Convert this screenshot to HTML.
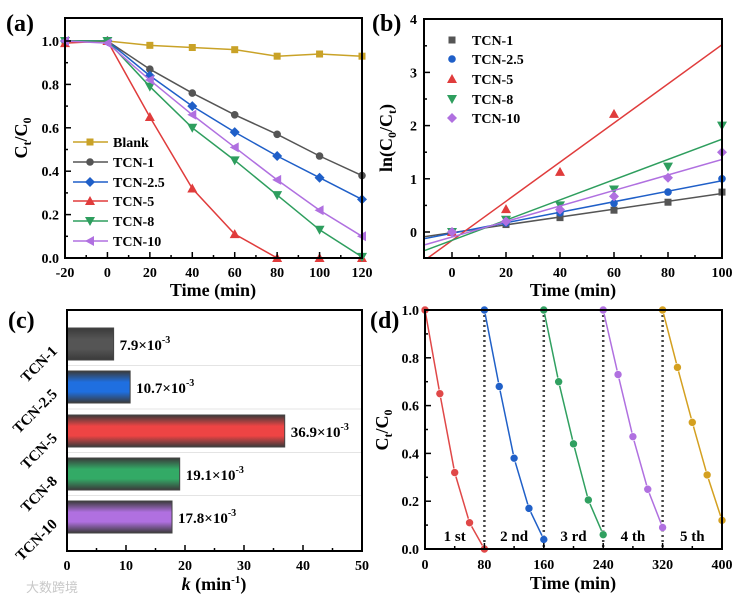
<!DOCTYPE html>
<html><head><meta charset="utf-8"><style>
body{margin:0;background:#fff}
svg{display:block;font-family:"Liberation Serif",serif;font-weight:bold}
</style></head><body>
<svg id="fig" width="741" height="605" viewBox="0 0 741 605"></svg>
<script>
// ---- data ----
const aTimes=[-20,0,20,40,60,80,100,120];
const aNames=["Blank","TCN-1","TCN-2.5","TCN-5","TCN-8","TCN-10"];
const aBlank=[1,1,0.98,0.97,0.96,0.93,0.94,0.93];
const aTCN1=[1,1,0.87,0.76,0.66,0.57,0.47,0.38];
const aTCN25=[1,1,0.84,0.70,0.58,0.47,0.37,0.27];
const aTCN5=[0.99,1,0.65,0.32,0.11,0,0,0];
const aTCN8=[1,1,0.79,0.60,0.45,0.29,0.13,0.005];
const aTCN10=[1,0.99,0.82,0.66,0.51,0.36,0.22,0.10];
const bTimes=[0,20,40,60,80,100];
const bNames=["TCN-1","TCN-2.5","TCN-5","TCN-8","TCN-10"];
const bTCN1=[0,0.14,0.27,0.41,0.56,0.75];
const bTCN25=[0,0.17,0.36,0.54,0.75,1.0];
const bTCN5=[0,0.43,1.13,2.22];
const bTCN8=[0,0.23,0.5,0.8,1.23,2.0];
const bTCN10=[0,0.2,0.42,0.67,1.02,1.5];
const cCats=["TCN-1","TCN-2.5","TCN-5","TCN-8","TCN-10"];
const cVals=[7.9,10.7,36.9,19.1,17.8];
const cLabels=["7.9","10.7","36.9","19.1","17.8"];
const dTimes=[0,20,40,60,80];
const dOffsets=[0,80,160,240,320];
const dCycleLabels=["1 st","2 nd","3 rd","4 th","5 th"];
const dC1=[1,0.65,0.32,0.11,0.0];
const dC2=[1,0.68,0.38,0.17,0.04];
const dC3=[1,0.70,0.44,0.205,0.06];
const dC4=[1,0.73,0.47,0.25,0.09];
const dC5=[1,0.76,0.53,0.31,0.12];

const NS="http://www.w3.org/2000/svg";
const svg=document.getElementById("fig");
function mk(tag,at,parent){const e=document.createElementNS(NS,tag);for(const k in at)e.setAttribute(k,at[k]);(parent||svg).appendChild(e);return e;}
function txt(s,at,parent){const e=mk("text",at,parent);e.textContent=s;return e;}
const cols=["#c9a227","#555555","#1f5fc8","#e03c3c","#2e9e5e","#b070e0"];

function marker(shape,x,y,c,g){
  let e;
  if(shape==="sq") e=mk("rect",{x:x-3.5,y:y-3.5,width:7,height:7,fill:c},g);
  else if(shape==="ci") e=mk("circle",{cx:x,cy:y,r:3.8,fill:c},g);
  else if(shape==="di") e=mk("polygon",{points:`${x},${y-5} ${x+5},${y} ${x},${y+5} ${x-5},${y}`,fill:c},g);
  else if(shape==="up") e=mk("polygon",{points:`${x},${y-5} ${x+5},${y+4} ${x-5},${y+4}`,fill:c},g);
  else if(shape==="dn") e=mk("polygon",{points:`${x},${y+5} ${x+5},${y-4} ${x-5},${y-4}`,fill:c},g);
  else e=mk("polygon",{points:`${x-5},${y} ${x+4},${y-5} ${x+4},${y+5}`,fill:c},g);
  
  
  return e;
}
function frame(x0,y0,x1,y1,name){
  const r=mk("rect",{x:x0,y:y0,width:x1-x0,height:y1-y0,fill:"none",stroke:"#000","stroke-width":2});
  
  
}
function tick(x1,y1,x2,y2){mk("line",{x1,y1,x2,y2,stroke:"#000","stroke-width":1.5});}

// ===== Panel A =====
const aX=v=>65+(v+20)/140*297, aY=v=>258-v*217;
let gA=mk("g",{});
const aSeries=[aBlank,aTCN1,aTCN25,aTCN5,aTCN8,aTCN10];
const aShapes=["sq","ci","di","up","dn","le"];
aSeries.forEach((s,i)=>{
  const p=mk("polyline",{points:s.map((v,j)=>aX(aTimes[j])+","+aY(v)).join(" "),fill:"none",stroke:cols[i],"stroke-width":1.5},gA);
  
  
  s.forEach((v,j)=>marker(aShapes[i],aX(aTimes[j]),aY(v),cols[i],gA));
});
frame(65,18,362,258,"panel-a-frame");
[-20,0,20,40,60,80,100,120].forEach(v=>{tick(aX(v),258,aX(v),252);txt(v,{x:aX(v),y:277,"text-anchor":"middle","font-size":14});});
[-10,10,30,50,70,90,110].forEach(v=>tick(aX(v),258,aX(v),255));
[0,0.2,0.4,0.6,0.8,1.0].forEach(v=>{tick(65,aY(v),71,aY(v));txt(v.toFixed(1),{x:59,y:aY(v)+5,"text-anchor":"end","font-size":14});});
[0.1,0.3,0.5,0.7,0.9].forEach(v=>tick(65,aY(v),68,aY(v)));
txt("Time (min)",{x:213,y:296,"text-anchor":"middle","font-size":18});
let ya=txt("",{transform:"translate(27,138) rotate(-90)","text-anchor":"middle","font-size":18});
ya.innerHTML='C<tspan font-size="12" dy="4">t</tspan><tspan dy="-4">/C</tspan><tspan font-size="12" dy="4">0</tspan>';

const aLegY=[142,162,182,201,221,241];
aNames.forEach((n,i)=>{
  const g=mk("g",{});
  mk("line",{x1:73,y1:aLegY[i],x2:108,y2:aLegY[i],stroke:cols[i],"stroke-width":1.5},g);
  marker(aShapes[i],90,aLegY[i],cols[i],g);
  txt(n,{x:113,y:aLegY[i]+5,"font-size":14},g);
});
txt("(a)",{x:6,y:31,"font-size":24});

// ===== Panel B =====
const bX=v=>452+v*2.7, bY=v=>232-v*53.2;
const bSeries=[bTCN1,bTCN25,bTCN5,bTCN8,bTCN10];
const bCols=cols.slice(1);
const bShapes=["sq","ci","up","dn","di"];
let gB=mk("g",{});
const clip=mk("clipPath",{id:"cb"});mk("rect",{x:424,y:19,width:298,height:239},clip);
bSeries.forEach((s,i)=>{
  const xs=bTimes.slice(0,s.length);const n=s.length;
  const mx=xs.reduce((a,b)=>a+b)/n,my=s.reduce((a,b)=>a+b)/n;
  let sxy=0,sxx=0;xs.forEach((x,j)=>{sxy+=(x-mx)*(s[j]-my);sxx+=(x-mx)**2;});
  const k=sxy/sxx,b0=my-k*mx;
  const l=mk("line",{x1:bX(-10),y1:bY(b0-10*k),x2:bX(100),y2:bY(b0+100*k),stroke:bCols[i],"stroke-width":1.5,"clip-path":"url(#cb)"},gB);
  
  
  s.forEach((v,j)=>marker(bShapes[i],bX(bTimes[j]),bY(v),bCols[i],gB));
});
frame(424,19,722,258,"panel-b-frame");
[0,20,40,60,80,100].forEach(v=>{tick(bX(v),258,bX(v),252);txt(v,{x:bX(v),y:277,"text-anchor":"middle","font-size":14});});
[10,30,50,70,90].forEach(v=>tick(bX(v),258,bX(v),255));
[0,1,2,3,4].forEach(v=>{tick(424,bY(v),430,bY(v));txt(v,{x:417,y:bY(v)+5,"text-anchor":"end","font-size":14});});
[0.5,1.5,2.5,3.5].forEach(v=>tick(424,bY(v),427,bY(v)));
txt("Time (min)",{x:573,y:296,"text-anchor":"middle","font-size":18});
let yb=txt("",{transform:"translate(392,138) rotate(-90)","text-anchor":"middle","font-size":18});
yb.innerHTML='ln(C<tspan font-size="12" dy="4">0</tspan><tspan dy="-4">/C</tspan><tspan font-size="12" dy="4">t</tspan><tspan dy="-4">)</tspan>';

const bLegY=[40,59,79,99,118];
bNames.forEach((n,i)=>{
  const g=mk("g",{});
  marker(bShapes[i],452,bLegY[i],bCols[i],g);
  txt(n,{x:472,y:bLegY[i]+5,"font-size":14},g);
});
txt("(b)",{x:372,y:31,"font-size":24});

// ===== Panel C =====
const cX=v=>67+v/50*295;
const cYc=[344,387,431,474,517];
const cCols=["#555555","#1f6fe0","#ee4444","#33aa66","#b070e0"];
const defs=mk("defs",{});
cCols.forEach((c,i)=>{
  const g=mk("linearGradient",{id:"g"+i,x1:0,y1:0,x2:0,y2:1},defs);
  mk("stop",{offset:"0","stop-color":"#3a3a3a"},g);
  mk("stop",{offset:"0.35","stop-color":c},g);
  mk("stop",{offset:"0.65","stop-color":c},g);
  mk("stop",{offset:"1","stop-color":"#3a3a3a"},g);
});
[365.5,409,452.5,495.5].forEach(y=>mk("line",{x1:67,y1:y,x2:362,y2:y,stroke:"#e4e4e4","stroke-width":1}));
cVals.forEach((v,i)=>{
  const r=mk("rect",{x:67,y:cYc[i]-16,width:cX(v)-67,height:32,fill:`url(#g${i})`,stroke:"#444","stroke-width":1});
  
  
  const t=txt("",{x:cX(v)+6,y:cYc[i]+6,"font-size":15});
  t.innerHTML=cLabels[i]+'×10<tspan font-size="10" dy="-7">-3</tspan>';
  
  const c=txt(cCats[i],{transform:`translate(58,${cYc[i]+8}) rotate(-45)`,"text-anchor":"end","font-size":15});
  
});
frame(67,310,362,551,"panel-c-frame");
[0,10,20,30,40,50].forEach(v=>{tick(cX(v),551,cX(v),545);txt(v,{x:cX(v),y:570,"text-anchor":"middle","font-size":14});});
[5,15,25,35,45].forEach(v=>tick(cX(v),551,cX(v),548));
let xc=txt("",{x:214,y:590,"text-anchor":"middle","font-size":18});
xc.innerHTML='<tspan font-style="italic">k</tspan> (min<tspan font-size="11" dy="-7">-1</tspan><tspan dy="7">)</tspan>';

txt("(c)",{x:8,y:328,"font-size":24});
let wm=txt("大数跨境",{x:26,y:592,"font-size":13,fill:"#c8c8c8","font-weight":"normal","font-family":"Liberation Sans, Noto Sans CJK SC, sans-serif"});


// ===== Panel D =====
const dX=v=>425+v/400*297, dY=v=>549-v*239;
const dSeries=[dC1,dC2,dC3,dC4,dC5];
const dCols=["#e04848","#2060c8","#30a060","#b070e0","#d4a020"];
[80,160,240,320].forEach(v=>{const l=mk("line",{x1:dX(v),y1:310,x2:dX(v),y2:549,stroke:"#444","stroke-width":2.5,"stroke-dasharray":"2,3"});});
dSeries.forEach((s,i)=>{
  const g=mk("g",{});
  mk("polyline",{points:s.map((v,j)=>dX(dOffsets[i]+dTimes[j])+","+dY(v)).join(" "),fill:"none",stroke:dCols[i],"stroke-width":1.5},g);
  s.forEach((v,j)=>{const c=mk("circle",{cx:dX(dOffsets[i]+dTimes[j]),cy:dY(v),r:4,fill:dCols[i],stroke:"#fff","stroke-width":0.6},g);});
  txt(dCycleLabels[i],{x:dX(dOffsets[i]+40),y:541,"text-anchor":"middle","font-size":15},g);
});
frame(425,310,722,549,"panel-d-frame");
[0,80,160,240,320,400].forEach(v=>{tick(dX(v),549,dX(v),543);txt(v,{x:dX(v),y:569,"text-anchor":"middle","font-size":14});});
[40,120,200,280,360].forEach(v=>tick(dX(v),549,dX(v),546));
[0,0.2,0.4,0.6,0.8,1.0].forEach(v=>{tick(425,dY(v),431,dY(v));txt(v.toFixed(1),{x:419,y:dY(v)+5,"text-anchor":"end","font-size":14});});
[0.1,0.3,0.5,0.7,0.9].forEach(v=>tick(425,dY(v),428,dY(v)));
txt("Time (min)",{x:573,y:589,"text-anchor":"middle","font-size":18});
let yd=txt("",{transform:"translate(388,430) rotate(-90)","text-anchor":"middle","font-size":18});
yd.innerHTML='C<tspan font-size="12" dy="4">t</tspan><tspan dy="-4">/C</tspan><tspan font-size="12" dy="4">0</tspan>';

txt("(d)",{x:370,y:328,"font-size":24});
</script>
</body></html>
